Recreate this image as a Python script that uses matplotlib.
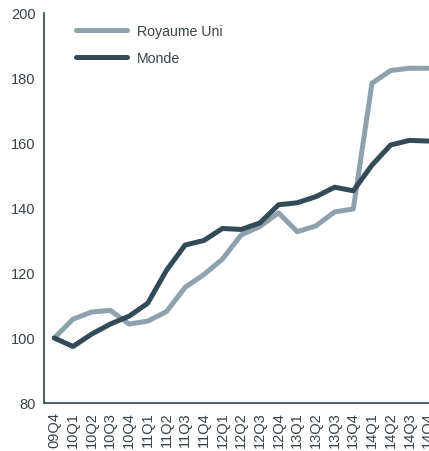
import numpy as np
import matplotlib
matplotlib.use("Agg")
import matplotlib.pyplot as plt

plt.rcParams['font.family'] = ['Liberation Sans', 'DejaVu Sans']

quarters = ['09Q4', '10Q1', '10Q2', '10Q3', '10Q4', '11Q1', '11Q2', '11Q3', '11Q4',
            '12Q1', '12Q2', '12Q3', '12Q4', '13Q1', '13Q2', '13Q3', '13Q4',
            '14Q1', '14Q2', '14Q3', '14Q4']
royaume_uni = [100, 105.8, 108, 108.5, 104.3, 105.2, 108.1, 115.6, 119.5,
               124.3, 131.7, 134.3, 138.5, 132.7, 134.5, 138.8, 139.7,
               178.4, 182.3, 183, 183]
monde = [100, 97.4, 101.2, 104.3, 106.7, 110.7, 120.8, 128.6, 130,
         133.7, 133.4, 135.4, 141, 141.6, 143.5, 146.4, 145.3,
         153.2, 159.4, 160.8, 160.6]

uk_color = '#8fa1ab'
monde_color = '#344a54'
text_color = '#3a4348'

fig = plt.figure(figsize=(4.29, 4.52), dpi=100)
ax = fig.add_axes([44 / 429, 48 / 452, 1 - 44 / 429, 390 / 452])

x = np.arange(len(quarters))
ax.plot(x, royaume_uni, color=uk_color, lw=3.6, label='Royaume Uni', solid_capstyle='round')
ax.plot(x, monde, color=monde_color, lw=3.6, label='Monde', solid_capstyle='round')

ax.set_xlim(-0.55, 20.05)
ax.set_ylim(80, 200)
ax.set_yticks([80, 100, 120, 140, 160, 180, 200])
ax.set_xticks(x)
ax.set_xticklabels(quarters, rotation=90)
ax.tick_params(length=0, labelsize=10.5, colors=text_color, pad=6)

for s in ['top', 'right']:
    ax.spines[s].set_visible(False)
for s in ['left', 'bottom']:
    ax.spines[s].set_color('#2e4450')
    ax.spines[s].set_linewidth(1.2)

leg = ax.legend(loc='upper left', bbox_to_anchor=(0.05, 1.004), frameon=False,
                fontsize=10.2, handlelength=3.6, handletextpad=0.7, labelspacing=0.9)
for t in leg.get_texts():
    t.set_color(text_color)

fig.savefig('out.png', dpi=100)
